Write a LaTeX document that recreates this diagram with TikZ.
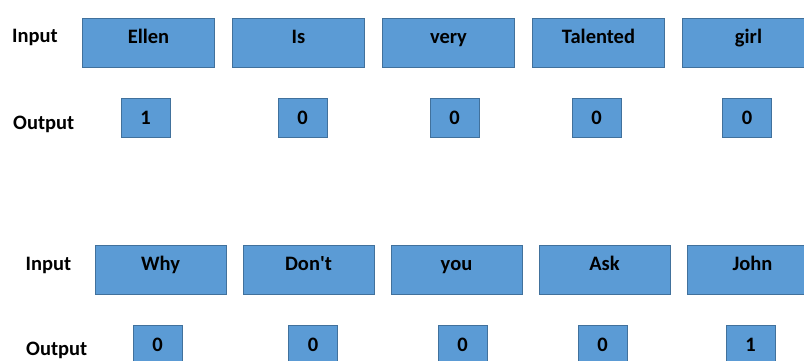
\documentclass[tikz,border=0pt]{standalone}
\usepackage{fontspec}
\setmainfont{Carlito}
\usepackage{xcolor}
\usetikzlibrary{positioning}
\definecolor{azulCaja}{HTML}{5B9BD5}
\definecolor{azulBorde}{HTML}{41719C}

\begin{document}
\begin{tikzpicture}[
            node distance=30pt and 17pt,
            every node/.style={font=\fontsize{20.5}{24}\selectfont\bfseries},
            entrada/.style={draw=azulBorde, line width=1pt, fill=azulCaja, inner sep=0pt, minimum width=132pt, minimum height=49pt, text height=24.5pt, text depth=24.5pt},
            salida/.style={draw=azulBorde, line width=1pt, fill=azulCaja, inner sep=0pt, minimum width=49pt, minimum height=39pt},
            rotulo/.style={inner sep=0pt}
        ]
\useasboundingbox (0,0) rectangle (804pt,360pt);
\clip (0,0) rectangle (804pt,360pt);

% primera frase
\node[entrada] (ellen) at (148.5pt,317pt) {Ellen};
\node[entrada, right=of ellen] (is) {Is};
\node[entrada, right=of is] (very) {very};
\node[entrada, right=of very] (talented) {Talented};
\node[entrada, right=of talented] (girl) {girl};

\node[salida, below=of ellen, xshift=-3pt] (oellen) {1};
\node[salida, below=of is, xshift=4pt] (ois) {0};
\node[salida, below=of very, xshift=6pt] (overy) {0};
\node[salida, below=of talented, xshift=-2pt] (otalented) {0};
\node[salida, below=of girl, xshift=-1.5pt] (ogirl) {0};

\node[rotulo, left=24pt of ellen.west, anchor=east, yshift=6pt] (in1) {Input};
\node[rotulo, left=46pt of oellen.west, anchor=east, yshift=-6.5pt] (out1) {Output};

% segunda frase
\node[entrada, minimum width=131pt] (why) at (160.5pt,90pt) {Why};
\node[entrada, minimum width=131pt, right=16pt of why] (dont) {Don\textquotesingle t};
\node[entrada, minimum width=131pt, right=16pt of dont] (you) {you};
\node[entrada, minimum width=131pt, right=16pt of you] (ask) {Ask};
\node[entrada, minimum width=131pt, right=16pt of ask] (john) {John};

\node[salida, below=of why, xshift=-3pt] (owhy) {0};
\node[salida, below=of dont, xshift=4.5pt] (odont) {0};
\node[salida, below=of you, xshift=6pt] (oyou) {0};
\node[salida, below=of ask, xshift=-2pt] (oask) {0};
\node[salida, below=of john, xshift=-2pt] (ojohn) {1};

\node[rotulo, left=23pt of why.west, anchor=east, yshift=5pt] (in2) {Input};
\node[rotulo, left=45pt of owhy.west, anchor=east, yshift=-5.5pt] (out2) {Output};
\end{tikzpicture}
\end{document}
